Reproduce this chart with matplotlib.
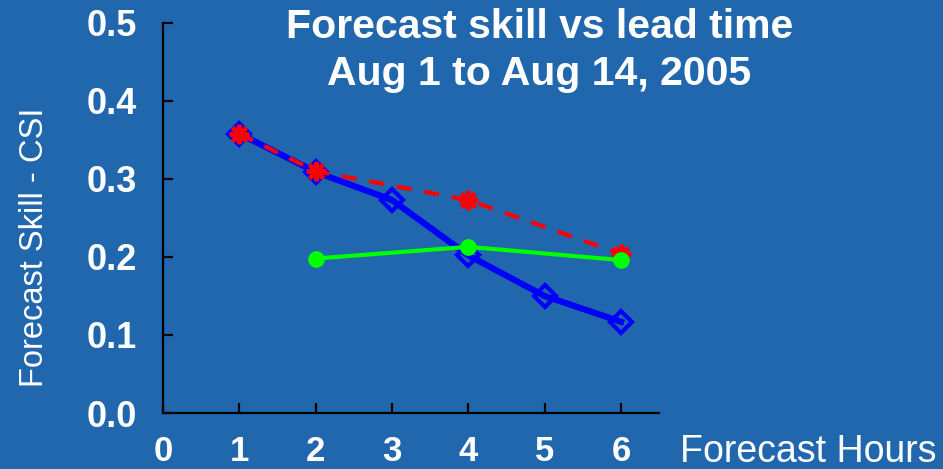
import matplotlib.pyplot as plt

hours = [0, 1, 2, 3, 4, 5, 6]
blue_x = [1, 2, 3, 4, 5, 6]
blue_y = [0.358, 0.309, 0.273, 0.202, 0.150, 0.117]
red_x = [1, 2, 4, 6]
red_y = [0.358, 0.310, 0.273, 0.204]
green_x = [2, 4, 6]
green_y = [0.198, 0.213, 0.196]
yticks = [0.0, 0.1, 0.2, 0.3, 0.4, 0.5]

bg = '#2167ad'
plt.rcParams['font.family'] = ['Liberation Sans', 'DejaVu Sans']

fig = plt.figure(figsize=(9.43, 4.69), dpi=100, facecolor=bg)
ax = fig.add_axes([0.1729, 0.1194, 0.5261, 0.8316])
ax.set_facecolor(bg)

ax.plot(blue_x, blue_y, color='#0000ff', lw=4.5, marker='D', ms=11,
        mfc='none', mec='#0000ff', mew=3, zorder=3)
ax.plot(red_x, red_y, color='#ff0000', lw=3, dashes=(3.6, 3.1), marker=(8, 2, 0),
        ms=14, mec='#ff0000', mew=3, zorder=4)
ax.plot(green_x, green_y, color='#00ff00', lw=3, marker='o', ms=11,
        mfc='#00ff00', mec='#00ff00', zorder=5)

ax.set_xlim(0, 6.5)
ax.set_ylim(0, 0.5)
ax.set_xticks(hours)
ax.set_yticks(yticks)
ax.set_yticklabels(['%.1f' % v for v in yticks])
for s in ['top', 'right']:
    ax.spines[s].set_visible(False)
for s in ['left', 'bottom']:
    ax.spines[s].set_color('black')
    ax.spines[s].set_linewidth(1.6)
ax.tick_params(axis='both', direction='in', length=7, width=1.6, color='black',
               labelcolor='white', labelsize=26)
ax.tick_params(axis='x', pad=16, labelsize=25)
ax.tick_params(axis='y', pad=19)
for lab in ax.get_xticklabels() + ax.get_yticklabels():
    lab.set_fontweight('bold')

fig.text(0.037, 1 - 247 / 469, 'Forecast Skill - CSI', color='white', fontsize=23.5,
         rotation=90, ha='center', va='center')
fig.text(0.721, 0.014, 'Forecast Hours', color='white', fontsize=27, ha='left', va='baseline')
fig.text(0.572, 0.982, 'Forecast skill vs lead time\nAug 1 to Aug 14, 2005', color='white',
         fontsize=29.5, fontweight='bold', ha='center', va='top', linespacing=1.3)

fig.savefig('out.png', dpi=100, facecolor=bg)
